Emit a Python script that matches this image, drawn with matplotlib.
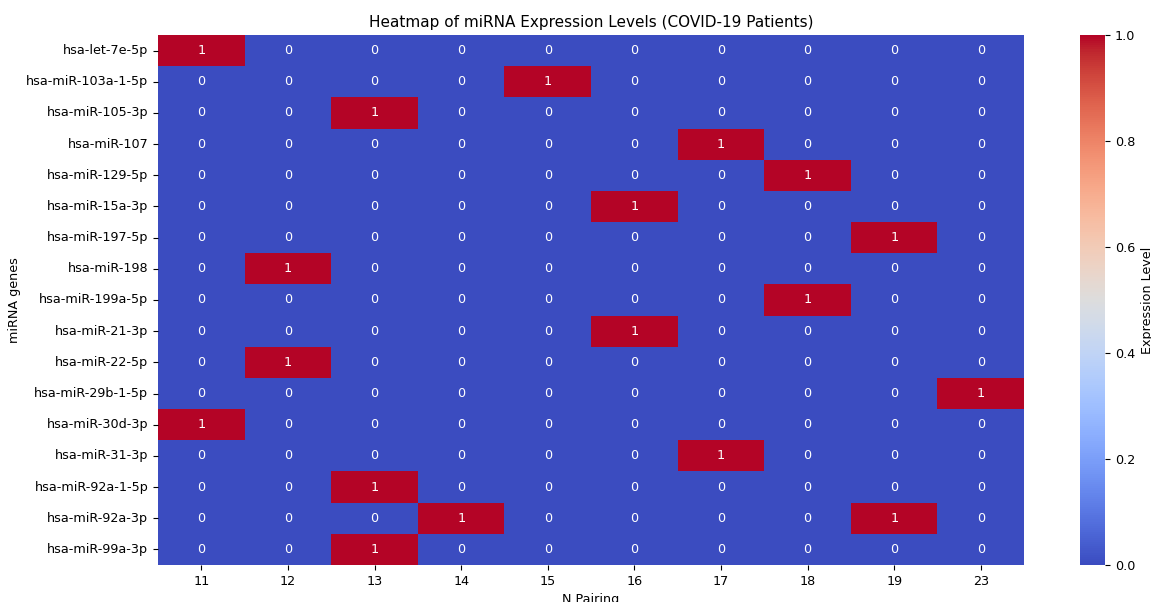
import numpy as np
import pandas as pd
import matplotlib
matplotlib.use("Agg")
import matplotlib.pyplot as plt
import seaborn as sns

genes = ["hsa-let-7e-5p", "hsa-miR-103a-1-5p", "hsa-miR-105-3p", "hsa-miR-107",
         "hsa-miR-129-5p", "hsa-miR-15a-3p", "hsa-miR-197-5p", "hsa-miR-198",
         "hsa-miR-199a-5p", "hsa-miR-21-3p", "hsa-miR-22-5p", "hsa-miR-29b-1-5p",
         "hsa-miR-30d-3p", "hsa-miR-31-3p", "hsa-miR-92a-1-5p", "hsa-miR-92a-3p",
         "hsa-miR-99a-3p"]
pairings = [11, 12, 13, 14, 15, 16, 17, 18, 19, 23]
# pairing(s) where each gene is expressed
hits = [[11], [15], [13], [17], [18], [16], [19], [12], [18], [16], [12], [23],
        [11], [17], [13], [14, 19], [13]]

mat = np.zeros((len(genes), len(pairings)), dtype=int)
for i, h in enumerate(hits):
    for p in h:
        mat[i, pairings.index(p)] = 1
df = pd.DataFrame(mat, index=genes, columns=pairings)

plt.rcParams["font.size"] = 9.2

fig = plt.figure(figsize=(11.51, 6.02), dpi=100)
ax = fig.add_axes([0.1373, 0.0615, 0.7524, 0.8804])
cax = fig.add_axes([0.9383, 0.0615, 0.0217, 0.8804])

sns.heatmap(df, annot=True, fmt="d", cmap="coolwarm", ax=ax, cbar_ax=cax,
            annot_kws={"fontsize": 9.2},
            cbar_kws={"label": "Expression Level"})
ax.set_title("Heatmap of miRNA Expression Levels (COVID-19 Patients)", fontsize=11)
ax.set_xlabel("N Pairing")
ax.set_ylabel("miRNA genes")
ax.tick_params(axis="x", rotation=0)
ax.tick_params(axis="y", rotation=0)

fig.savefig("out.png", dpi=100)
